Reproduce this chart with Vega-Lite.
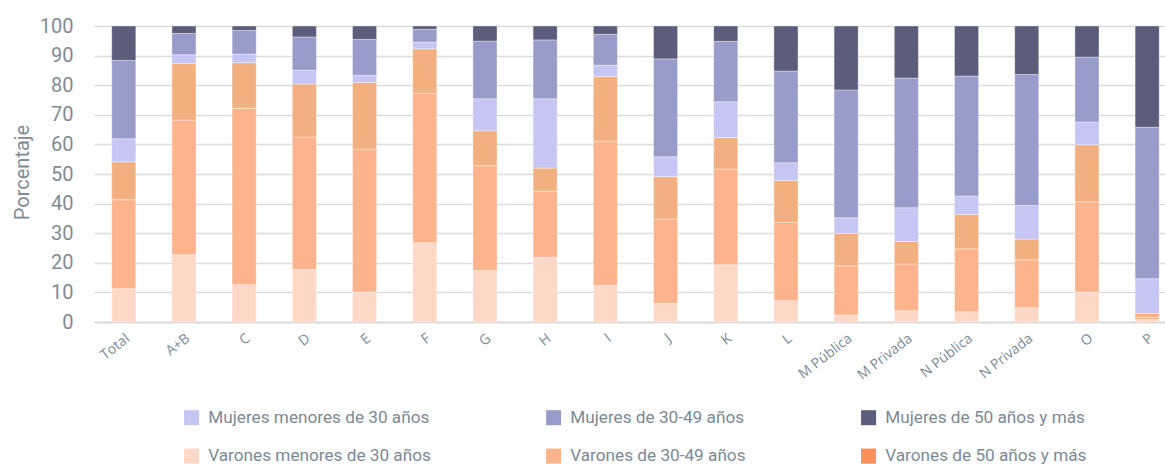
{
  "$schema": "https://vega.github.io/schema/vega-lite/v6.json",
  "autosize": "none",
  "padding": {"left": 94, "top": 26, "right": 0, "bottom": 142},
  "width": 1071,
  "height": 296,
  "background": "#ffffff",
  "config": {
    "view": {"stroke": null},
    "font": "Roboto",
    "axis": {"labelFont": "Roboto", "titleFont": "Roboto"}
  },
  "data": {
    "values": [
      {"sector": "Total", "serie": "Varones menores de 30 años", "valor": 11.2},
      {"sector": "Total", "serie": "Varones de 30-49 años", "valor": 30.1},
      {"sector": "Total", "serie": "Varones de 50 años y más", "valor": 12.8},
      {"sector": "Total", "serie": "Mujeres menores de 30 años", "valor": 7.8},
      {"sector": "Total", "serie": "Mujeres de 30-49 años", "valor": 26.5},
      {"sector": "Total", "serie": "Mujeres de 50 años y más", "valor": 11.6},
      {"sector": "A+B", "serie": "Varones menores de 30 años", "valor": 22.7},
      {"sector": "A+B", "serie": "Varones de 30-49 años", "valor": 45.5},
      {"sector": "A+B", "serie": "Varones de 50 años y más", "valor": 19.1},
      {"sector": "A+B", "serie": "Mujeres menores de 30 años", "valor": 3.0},
      {"sector": "A+B", "serie": "Mujeres de 30-49 años", "valor": 7.2},
      {"sector": "A+B", "serie": "Mujeres de 50 años y más", "valor": 2.5},
      {"sector": "C", "serie": "Varones menores de 30 años", "valor": 12.6},
      {"sector": "C", "serie": "Varones de 30-49 años", "valor": 59.6},
      {"sector": "C", "serie": "Varones de 50 años y más", "valor": 15.4},
      {"sector": "C", "serie": "Mujeres menores de 30 años", "valor": 2.9},
      {"sector": "C", "serie": "Mujeres de 30-49 años", "valor": 8.0},
      {"sector": "C", "serie": "Mujeres de 50 años y más", "valor": 1.5},
      {"sector": "D", "serie": "Varones menores de 30 años", "valor": 17.7},
      {"sector": "D", "serie": "Varones de 30-49 años", "valor": 44.8},
      {"sector": "D", "serie": "Varones de 50 años y más", "valor": 17.9},
      {"sector": "D", "serie": "Mujeres menores de 30 años", "valor": 4.7},
      {"sector": "D", "serie": "Mujeres de 30-49 años", "valor": 11.2},
      {"sector": "D", "serie": "Mujeres de 50 años y más", "valor": 3.7},
      {"sector": "E", "serie": "Varones menores de 30 años", "valor": 10.1},
      {"sector": "E", "serie": "Varones de 30-49 años", "valor": 48.3},
      {"sector": "E", "serie": "Varones de 50 años y más", "valor": 22.5},
      {"sector": "E", "serie": "Mujeres menores de 30 años", "valor": 2.5},
      {"sector": "E", "serie": "Mujeres de 30-49 años", "valor": 12.1},
      {"sector": "E", "serie": "Mujeres de 50 años y más", "valor": 4.5},
      {"sector": "F", "serie": "Varones menores de 30 años", "valor": 26.8},
      {"sector": "F", "serie": "Varones de 30-49 años", "valor": 50.5},
      {"sector": "F", "serie": "Varones de 50 años y más", "valor": 15.0},
      {"sector": "F", "serie": "Mujeres menores de 30 años", "valor": 2.3},
      {"sector": "F", "serie": "Mujeres de 30-49 años", "valor": 4.3},
      {"sector": "F", "serie": "Mujeres de 50 años y más", "valor": 1.1},
      {"sector": "G", "serie": "Varones menores de 30 años", "valor": 17.4},
      {"sector": "G", "serie": "Varones de 30-49 años", "valor": 35.4},
      {"sector": "G", "serie": "Varones de 50 años y más", "valor": 11.8},
      {"sector": "G", "serie": "Mujeres menores de 30 años", "valor": 10.8},
      {"sector": "G", "serie": "Mujeres de 30-49 años", "valor": 19.5},
      {"sector": "G", "serie": "Mujeres de 50 años y más", "valor": 5.1},
      {"sector": "H", "serie": "Varones menores de 30 años", "valor": 21.9},
      {"sector": "H", "serie": "Varones de 30-49 años", "valor": 22.3},
      {"sector": "H", "serie": "Varones de 50 años y más", "valor": 7.8},
      {"sector": "H", "serie": "Mujeres menores de 30 años", "valor": 23.4},
      {"sector": "H", "serie": "Mujeres de 30-49 años", "valor": 19.9},
      {"sector": "H", "serie": "Mujeres de 50 años y más", "valor": 4.7},
      {"sector": "I", "serie": "Varones menores de 30 años", "valor": 12.4},
      {"sector": "I", "serie": "Varones de 30-49 años", "valor": 48.7},
      {"sector": "I", "serie": "Varones de 50 años y más", "valor": 21.8},
      {"sector": "I", "serie": "Mujeres menores de 30 años", "valor": 3.9},
      {"sector": "I", "serie": "Mujeres de 30-49 años", "valor": 10.4},
      {"sector": "I", "serie": "Mujeres de 50 años y más", "valor": 2.8},
      {"sector": "J", "serie": "Varones menores de 30 años", "valor": 6.3},
      {"sector": "J", "serie": "Varones de 30-49 años", "valor": 28.5},
      {"sector": "J", "serie": "Varones de 50 años y más", "valor": 14.3},
      {"sector": "J", "serie": "Mujeres menores de 30 años", "valor": 6.7},
      {"sector": "J", "serie": "Mujeres de 30-49 años", "valor": 33.1},
      {"sector": "J", "serie": "Mujeres de 50 años y más", "valor": 11.1},
      {"sector": "K", "serie": "Varones menores de 30 años", "valor": 19.3},
      {"sector": "K", "serie": "Varones de 30-49 años", "valor": 32.4},
      {"sector": "K", "serie": "Varones de 50 años y más", "valor": 10.6},
      {"sector": "K", "serie": "Mujeres menores de 30 años", "valor": 12.1},
      {"sector": "K", "serie": "Mujeres de 30-49 años", "valor": 20.4},
      {"sector": "K", "serie": "Mujeres de 50 años y más", "valor": 5.2},
      {"sector": "L", "serie": "Varones menores de 30 años", "valor": 7.2},
      {"sector": "L", "serie": "Varones de 30-49 años", "valor": 26.5},
      {"sector": "L", "serie": "Varones de 50 años y más", "valor": 14.1},
      {"sector": "L", "serie": "Mujeres menores de 30 años", "valor": 6.0},
      {"sector": "L", "serie": "Mujeres de 30-49 años", "valor": 31.0},
      {"sector": "L", "serie": "Mujeres de 50 años y más", "valor": 15.2},
      {"sector": "M Pública", "serie": "Varones menores de 30 años", "valor": 2.4},
      {"sector": "M Pública", "serie": "Varones de 30-49 años", "valor": 16.6},
      {"sector": "M Pública", "serie": "Varones de 50 años y más", "valor": 10.9},
      {"sector": "M Pública", "serie": "Mujeres menores de 30 años", "valor": 5.3},
      {"sector": "M Pública", "serie": "Mujeres de 30-49 años", "valor": 43.2},
      {"sector": "M Pública", "serie": "Mujeres de 50 años y más", "valor": 21.6},
      {"sector": "M Privada", "serie": "Varones menores de 30 años", "valor": 3.8},
      {"sector": "M Privada", "serie": "Varones de 30-49 años", "valor": 15.8},
      {"sector": "M Privada", "serie": "Varones de 50 años y más", "valor": 7.6},
      {"sector": "M Privada", "serie": "Mujeres menores de 30 años", "valor": 11.4},
      {"sector": "M Privada", "serie": "Mujeres de 30-49 años", "valor": 43.8},
      {"sector": "M Privada", "serie": "Mujeres de 50 años y más", "valor": 17.6},
      {"sector": "N Pública", "serie": "Varones menores de 30 años", "valor": 3.5},
      {"sector": "N Pública", "serie": "Varones de 30-49 años", "valor": 21.2},
      {"sector": "N Pública", "serie": "Varones de 50 años y más", "valor": 11.7},
      {"sector": "N Pública", "serie": "Mujeres menores de 30 años", "valor": 6.2},
      {"sector": "N Pública", "serie": "Mujeres de 30-49 años", "valor": 40.5},
      {"sector": "N Pública", "serie": "Mujeres de 50 años y más", "valor": 16.9},
      {"sector": "N Privada", "serie": "Varones menores de 30 años", "valor": 4.8},
      {"sector": "N Privada", "serie": "Varones de 30-49 años", "valor": 16.2},
      {"sector": "N Privada", "serie": "Varones de 50 años y más", "valor": 7.0},
      {"sector": "N Privada", "serie": "Mujeres menores de 30 años", "valor": 11.4},
      {"sector": "N Privada", "serie": "Mujeres de 30-49 años", "valor": 44.2},
      {"sector": "N Privada", "serie": "Mujeres de 50 años y más", "valor": 16.4},
      {"sector": "O", "serie": "Varones menores de 30 años", "valor": 10.1},
      {"sector": "O", "serie": "Varones de 30-49 años", "valor": 30.5},
      {"sector": "O", "serie": "Varones de 50 años y más", "valor": 19.3},
      {"sector": "O", "serie": "Mujeres menores de 30 años", "valor": 7.7},
      {"sector": "O", "serie": "Mujeres de 30-49 años", "valor": 21.9},
      {"sector": "O", "serie": "Mujeres de 50 años y más", "valor": 10.5},
      {"sector": "P", "serie": "Varones menores de 30 años", "valor": 0.8},
      {"sector": "P", "serie": "Varones de 30-49 años", "valor": 0.8},
      {"sector": "P", "serie": "Varones de 50 años y más", "valor": 1.3},
      {"sector": "P", "serie": "Mujeres menores de 30 años", "valor": 11.7},
      {"sector": "P", "serie": "Mujeres de 30-49 años", "valor": 51.2},
      {"sector": "P", "serie": "Mujeres de 50 años y más", "valor": 34.2}
    ]
  },
  "transform": [
    {"calculate": "indexof(['Varones menores de 30 años','Varones de 30-49 años','Varones de 50 años y más','Mujeres menores de 30 años','Mujeres de 30-49 años','Mujeres de 50 años y más'], datum.serie)", "as": "orden"}
  ],
  "mark": {"type": "bar", "stroke": "#ffffff", "strokeWidth": 0.6, "strokeOpacity": 0.6},
  "encoding": {
    "x": {
      "field": "sector",
      "type": "nominal",
      "sort": null,
      "scale": {"paddingInner": 0.6, "paddingOuter": 0.1955, "align": 0.753, "round": false},
      "axis": {
        "title": null,
        "labelAngle": -38,
        "labelFont": "Open Sans",
        "labelFontSize": 14,
        "labelColor": "#7b8b97",
        "ticks": false,
        "labelPadding": 9,
        "domainColor": "#d6d6d6",
        "domainWidth": 1.5
      }
    },
    "y": {
      "field": "valor",
      "type": "quantitative",
      "stack": "zero",
      "scale": {"domain": [0, 100], "nice": false},
      "axis": {
        "title": "Porcentaje",
        "values": [0, 10, 20, 30, 40, 50, 60, 70, 80, 90, 100],
        "labelFontSize": 20,
        "labelColor": "#7f8c96",
        "labelPadding": 21,
        "ticks": false,
        "domain": false,
        "gridColor": "#dcdcdc",
        "gridWidth": 1.5,
        "titleFontSize": 20,
        "titleFontWeight": "normal",
        "titleColor": "#7f8c96",
        "titleAngle": -90,
        "titleAlign": "center",
        "titleBaseline": "middle",
        "titleX": -72,
        "titleY": 146
      }
    },
    "order": {"field": "orden", "type": "quantitative", "sort": "ascending"},
    "fill": {
      "condition": {"test": "datum.serie === 'Varones de 50 años y más'", "value": "#f2af80"},
      "field": "serie",
      "type": "nominal",
      "scale": {
        "domain": ["Mujeres menores de 30 años", "Mujeres de 30-49 años", "Mujeres de 50 años y más", "Varones menores de 30 años", "Varones de 30-49 años", "Varones de 50 años y más"],
        "range": ["#c5c6f3", "#989ccb", "#5b5d7a", "#fdd8c6", "#fdb38c", "#fe8f5a"]
      },
      "legend": {
        "title": null,
        "orient": "none",
        "legendX": 89,
        "legendY": 383,
        "direction": "horizontal",
        "columns": 3,
        "symbolType": "square",
        "symbolSize": 225,
        "symbolStrokeWidth": 0,
        "symbolOpacity": 1,
        "labelFont": "Roboto",
        "labelFontSize": 17.2,
        "labelColor": "#7b8a95",
        "labelOffset": 8,
        "columnPadding": 114,
        "rowPadding": 20.5,
        "labelLimit": 400
      }
    }
  }
}
